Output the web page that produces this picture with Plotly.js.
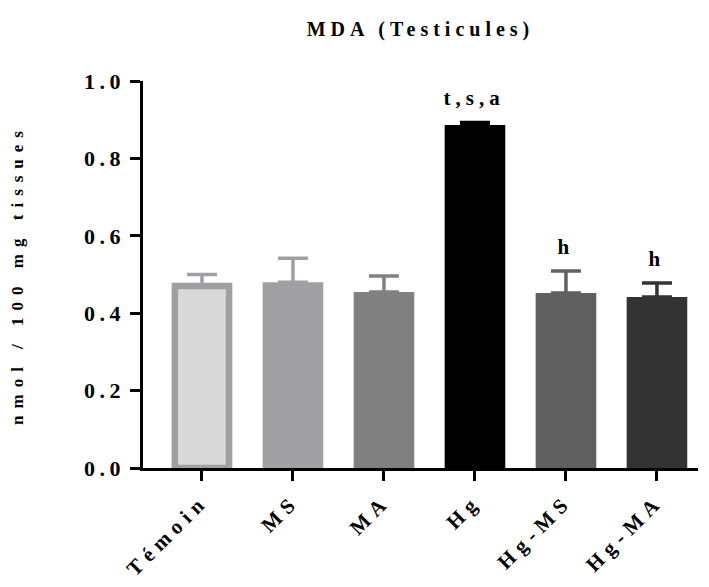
<!DOCTYPE html>
<html>
<head>
<meta charset="utf-8">
<script src="https://cdn.plot.ly/plotly-3.0.1.min.js"></script>
<style>
html,body{margin:0;padding:0;background:#fff;}
#chart .gtitle{letter-spacing:5px;}
#chart .ytitle{letter-spacing:7px;}
#chart .xtick text{letter-spacing:6px;}
#chart .ytick text{letter-spacing:4.5px;}
#chart .annotation-text{letter-spacing:5px;}
</style>
</head>
<body>
<div id="chart" style="width:709px;height:587px;"></div>
<script>
const categories = ["Témoin", "MS", "MA", "Hg", "Hg-MS", "Hg-MA"];
const means = [0.470, 0.480, 0.455, 0.886, 0.452, 0.442];
const sems = [0.030, 0.062, 0.041, 0.007, 0.057, 0.036];
const labels = ["", "", "", "t,s,a", "h", "h"];
const fillColors = ["#d9d9d9", "#a0a0a4", "#808080", "#000000", "#606060", "#333333"];
const lineColors = ["#a0a0a4", "#a0a0a4", "#808080", "#000000", "#606060", "#333333"];
const lineWidths = [6.5, 0, 0, 0, 0, 0];
const barWidths = [0.596, 0.666, 0.666, 0.666, 0.666, 0.666];

const FONT = "Liberation Serif, Times New Roman, serif";

const traces = categories.map((c, i) => ({
  type: "bar",
  x: [c],
  y: [means[i]],
  width: [barWidths[i]],
  marker: {color: fillColors[i], line: {color: lineColors[i], width: lineWidths[i]}},
  error_y: {type: "data", symmetric: false, array: [sems[i]], arrayminus: [0],
            color: lineColors[i], thickness: 3.5, width: 15},
  hoverinfo: "skip",
  showlegend: false
}));

const annotations = categories.map((c, i) => ({
  x: c, y: means[i] + sems[i], xref: "x", yref: "y",
  text: labels[i] ? "<b>" + labels[i] + "</b>" : "",
  showarrow: false, yanchor: "bottom", yshift: 10,
  font: {family: FONT, size: 21, color: "#000"}
})).filter(a => a.text);

const layout = {
  width: 709, height: 587,
  margin: {l: 143, r: 11, t: 81, b: 119, pad: 0},
  paper_bgcolor: "#fff", plot_bgcolor: "#fff",
  barmode: "overlay",
  title: {text: "<b>MDA (Testicules)</b>", x: 0.5, xref: "paper", xanchor: "center",
          y: 0.95, yref: "container", yanchor: "middle",
          font: {family: FONT, size: 20, color: "#000"}},
  xaxis: {
    type: "category", categoryorder: "array", categoryarray: categories,
    range: [-0.648, 5.451],
    showline: true, linecolor: "#000", linewidth: 3,
    ticks: "outside", ticklen: 10, tickwidth: 3, tickcolor: "#000",
    tickangle: -45, showgrid: false, zeroline: false,
    tickfont: {family: FONT, size: 21, color: "#000", weight: "bold"}
  },
  yaxis: {
    range: [0, 1.0], tickvals: [0, 0.2, 0.4, 0.6, 0.8, 1.0],
    ticktext: ["0.0", "0.2", "0.4", "0.6", "0.8", "1.0"],
    showline: true, linecolor: "#000", linewidth: 3.5,
    ticks: "outside", ticklen: 10, tickwidth: 3, tickcolor: "#000",
    showgrid: false, zeroline: false,
    tickfont: {family: FONT, size: 22, color: "#000", weight: "bold"},
    title: {text: "<b>nmol / 100 mg tissues</b>", standoff: 70,
            font: {family: FONT, size: 17, color: "#000"}}
  },
  annotations: annotations
};

Plotly.newPlot("chart", traces, layout, {displayModeBar: false, staticPlot: true});
</script>
</body>
</html>
